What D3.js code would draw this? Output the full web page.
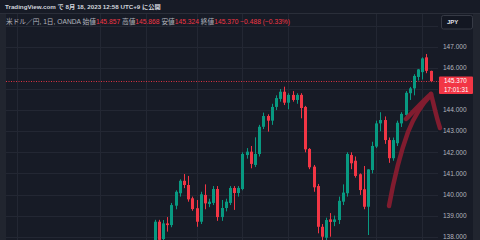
<!DOCTYPE html>
<html><head><meta charset="utf-8">
<script src="https://cdn.jsdelivr.net/npm/d3@7"></script>
<style>html,body{margin:0;padding:0;background:#171b26;overflow:hidden}</style>
</head><body>
<svg id="c" width="480" height="240"></svg>
<script>
// ---- data ----
const dates = [
 "2023-05-18","2023-05-19","2023-05-22","2023-05-23","2023-05-24","2023-05-25","2023-05-26","2023-05-29","2023-05-30","2023-05-31",
 "2023-06-01","2023-06-02","2023-06-05","2023-06-06","2023-06-07","2023-06-08","2023-06-09","2023-06-12","2023-06-13","2023-06-14","2023-06-15","2023-06-16","2023-06-19","2023-06-20","2023-06-21","2023-06-22","2023-06-23","2023-06-26","2023-06-27","2023-06-28","2023-06-29","2023-06-30",
 "2023-07-03","2023-07-04","2023-07-05","2023-07-06","2023-07-07","2023-07-10","2023-07-11","2023-07-12","2023-07-13","2023-07-14","2023-07-17","2023-07-18","2023-07-19","2023-07-20","2023-07-21","2023-07-24","2023-07-25","2023-07-26","2023-07-27","2023-07-28","2023-07-31",
 "2023-08-01","2023-08-02","2023-08-03","2023-08-04","2023-08-07","2023-08-08","2023-08-09","2023-08-10","2023-08-11","2023-08-14","2023-08-15","2023-08-16","2023-08-17","2023-08-18"];
const opens = [137.70,138.71,137.89,138.63,138.55,139.47,140.06,140.65,140.45,139.82,
 139.35,138.71,139.98,139.55,139.60,140.26,138.93,139.36,139.60,140.31,140.07,140.26,141.87,142.03,141.40,141.92,143.21,143.72,143.50,144.15,144.53,144.87,
 144.35,144.72,144.48,144.72,144.15,142.16,141.32,140.40,138.47,137.95,138.82,138.70,138.79,139.66,140.06,141.87,141.60,140.96,140.25,139.42,141.16,
 142.27,143.37,143.53,142.58,141.72,142.43,143.37,143.77,144.80,145.03,145.57,145.80,146.50,145.857];
const highs = [138.80,138.80,138.79,138.93,139.60,140.20,140.72,140.97,140.88,139.90,
 139.74,140.13,140.48,139.80,140.40,140.40,139.74,139.80,140.40,140.40,140.40,142.00,142.20,142.30,142.71,143.30,143.88,143.80,144.30,144.70,145.00,145.11,
 144.80,144.90,144.80,144.80,144.20,142.20,141.40,140.50,138.60,138.90,139.12,139.00,139.90,140.48,142.00,142.00,141.80,141.00,141.35,141.20,142.50,
 143.50,143.90,143.70,142.70,142.70,143.50,143.90,144.90,145.10,145.70,145.95,146.50,146.66,145.868];
const lows = [137.50,137.60,137.75,138.24,138.45,139.30,139.90,140.30,139.66,139.23,
 138.47,138.60,139.30,139.40,139.50,138.75,138.75,139.20,139.50,139.27,139.90,140.20,141.70,141.24,141.30,141.80,143.10,142.98,143.30,144.00,144.40,144.24,
 144.04,144.40,144.30,143.61,142.00,141.20,140.13,138.16,137.70,137.30,138.00,138.50,138.60,139.50,139.90,141.20,140.80,139.98,139.30,138.08,141.00,
 142.20,143.00,142.40,141.50,141.60,142.30,143.20,143.70,144.48,144.70,145.40,145.45,145.75,145.324];
const closes = [138.71,137.85,138.63,138.55,139.50,140.13,140.65,140.45,139.77,139.31,
 138.71,140.01,139.58,139.66,140.26,138.93,139.36,139.66,140.31,140.07,140.31,141.92,142.03,141.45,141.92,143.21,143.72,143.50,144.15,144.57,144.87,144.35,
 144.72,144.48,144.72,144.10,142.14,141.29,140.34,138.47,138.00,138.79,138.70,138.82,139.70,140.09,141.92,141.48,140.88,140.21,139.42,141.19,142.30,
 143.37,143.53,142.58,141.72,142.58,143.40,143.82,144.82,145.03,145.62,145.93,146.45,145.86,145.370];
const priceTicks = [138,139,140,141,142,143,144,145,146,147,148];
const timeGrid = ["2023-04-03","2023-05-01","2023-05-16","2023-06-01","2023-06-16","2023-07-03","2023-08-01","2023-08-16"];
const lastPrice = 145.370;
const countdown = "17:01:31";
const title1 = "TradingView.com で 8月 18, 2023 12:58 UTC+9 に公開";
const legendParts = [
 ["米ドル／円, 1日, OANDA ", "n"], ["始値", "n"], ["145.857", "r"], [" 高値", "n"], ["145.868", "r"],
 [" 安値", "n"], ["145.324", "r"], [" 終値", "n"], ["145.370 −0.488 (−0.33%)", "r"]];
const currency = "JPY";

// ---- layout ----
const W = 480, H = 240;
const plotL = 6, plotR = 438, topBar = 13;
const UP = "#089981", DN = "#f23645";
const FONT = "'Liberation Sans','Noto Sans CJK JP',sans-serif";
const NUMFONT = "'Liberation Sans',sans-serif";
const svg = d3.select("#c");

const parse = d3.timeParse("%Y-%m-%d");
const d0 = parse(dates[0]);
function tIndex(s) {
  const k = dates.indexOf(s);
  if (k >= 0) return k;
  const d = parse(s);
  const lo = d < d0 ? d : d0, hi = d < d0 ? d0 : d;
  const n = d3.timeDay.range(lo, hi).filter(z => z.getDay() % 6 !== 0).length;
  return d < d0 ? -n : n;
}
const x = d3.scaleLinear().domain([0, dates.length - 1]).range([154.7, 430.6]);
const y = d3.scaleLinear().domain([138, 147]).range([236.7, 46.8]);

svg.append("rect").attr("width", W).attr("height", H).attr("fill", "#171b26");

// grid
const g = svg.append("g");
g.selectAll("line.h").data(priceTicks).join("line")
  .attr("x1", plotL).attr("x2", plotR)
  .attr("y1", d => Math.round(y(d)) + 0.5).attr("y2", d => Math.round(y(d)) + 0.5)
  .attr("stroke", "#232733").attr("stroke-width", 1);
g.selectAll("line.v").data(timeGrid).join("line")
  .attr("x1", d => Math.round(x(tIndex(d))) + 0.5).attr("x2", d => Math.round(x(tIndex(d))) + 0.5)
  .attr("y1", topBar).attr("y2", H)
  .attr("stroke", "#232733").attr("stroke-width", 1);

// price line
svg.append("line").attr("x1", plotL).attr("x2", 439)
  .attr("y1", Math.round(y(lastPrice)) + 0.5).attr("y2", Math.round(y(lastPrice)) + 0.5)
  .attr("stroke", DN).attr("stroke-width", 1).attr("stroke-dasharray", "1,1.5").attr("opacity", 0.9);

// candles
const idx = d3.range(dates.length);
const cg = svg.append("g");
cg.selectAll("line.w").data(idx).join("line")
  .attr("x1", i => Math.round(x(i)) + 0.5).attr("x2", i => Math.round(x(i)) + 0.5)
  .attr("y1", i => y(highs[i])).attr("y2", i => y(lows[i]))
  .attr("stroke", i => closes[i] >= opens[i] ? UP : DN).attr("stroke-width", 1);
cg.selectAll("rect.b").data(idx).join("rect")
  .attr("x", i => Math.round(x(i)) - 1).attr("width", 3)
  .attr("y", i => y(Math.max(opens[i], closes[i])))
  .attr("height", i => Math.max(1, Math.abs(y(opens[i]) - y(closes[i]))))
  .attr("fill", i => closes[i] >= opens[i] ? UP : DN);

// hand drawn arrow
const ag = svg.append("g").attr("fill", "none").attr("stroke", "#8a1d30")
  .attr("stroke-width", 4.5).attr("stroke-linecap", "round").attr("stroke-linejoin", "round").attr("opacity", 0.92);
ag.append("path").attr("d", "M389,206 C393,184 400,154 408,132 C414,117 422,104 431,95");
ag.append("path").attr("d", "M406,119 C414,111 423,101 431,94");
ag.append("path").attr("d", "M431,94 C434,105 436,116 440,128");

// last price label geometry
const ly = y(lastPrice);
const boxTop = ly - 4.7, boxH = 17.5;

// right axis (labels hidden behind the last-price box are omitted, as on the chart)
const ax = svg.append("g");
ax.selectAll("text").data(priceTicks.filter(d => d <= 147 && (y(d) < boxTop - 3 || y(d) > boxTop + boxH + 3))).join("text")
  .attr("x", 443).attr("y", d => y(d)).attr("dy", "0.35em")
  .attr("font-family", NUMFONT).attr("font-size", 6.5).attr("fill", "#b2b5be")
  .text(d => d3.format(".3f")(d));

svg.append("rect").attr("x", 439).attr("y", boxTop).attr("width", 34).attr("height", boxH).attr("rx", 1).attr("fill", DN);
svg.append("text").attr("x", 444).attr("y", ly - 0.3).attr("dy", "0.35em").attr("font-family", NUMFONT)
  .attr("font-size", 6.3).attr("fill", "#fff").text(d3.format(".3f")(lastPrice));
svg.append("text").attr("x", 444).attr("y", ly + 8.3).attr("dy", "0.35em").attr("font-family", NUMFONT)
  .attr("font-size", 6.3).attr("fill", "#fff").text(countdown);

// frame
svg.append("rect").attr("x", 0).attr("y", topBar).attr("width", plotL).attr("height", H - topBar).attr("fill", "#21252f");
svg.append("rect").attr("x", 473).attr("y", topBar).attr("width", 7).attr("height", H - topBar).attr("fill", "#21252f");
svg.append("line").attr("x1", 0).attr("x2", W).attr("y1", topBar + 0.5).attr("y2", topBar + 0.5).attr("stroke", "#2a2e39");

// header
const t1 = svg.append("text").attr("x", 5).attr("y", 6.5).attr("dy", "0.35em")
  .attr("font-family", FONT).attr("font-size", 6).attr("font-weight", "bold").attr("fill", "#d1d4dc").text(title1);
const w1 = t1.node().getComputedTextLength();
t1.attr("font-size", 6 * 156 / w1);

const t2 = svg.append("text").attr("x", 6).attr("y", 21.5).attr("dy", "0.35em")
  .attr("font-family", FONT).attr("font-size", 6);
t2.selectAll("tspan").data(legendParts).join("tspan")
  .attr("fill", d => d[1] === "r" ? DN : "#b2b5be").text(d => d[0]);
const w2 = t2.node().getComputedTextLength();
t2.attr("font-size", 6 * 285 / w2);

// currency box
svg.append("rect").attr("x", 441.5).attr("y", 15.5).attr("width", 31).attr("height", 13.5).attr("rx", 2)
  .attr("fill", "#131722").attr("stroke", "#363a45");
svg.append("text").attr("x", 447).attr("y", 22.3).attr("dy", "0.35em").attr("font-family", NUMFONT)
  .attr("font-size", 6).attr("font-weight", "bold").attr("fill", "#e0e3eb").text(currency);
</script>
</body></html>
